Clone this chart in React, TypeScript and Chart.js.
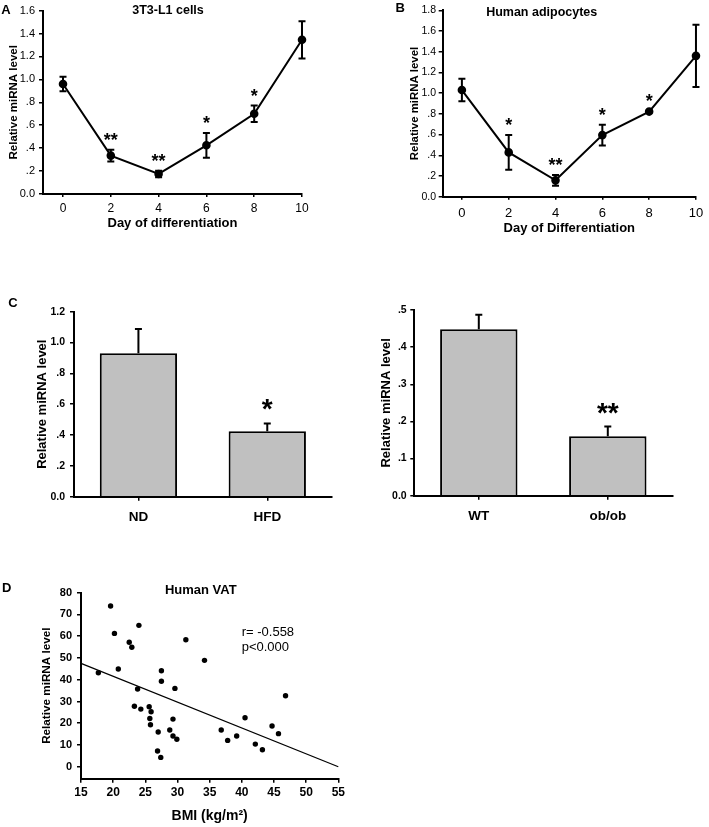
import React, { useEffect, useRef } from "react";
import { Chart, registerables } from "chart.js";
Chart.register(...registerables);

const FONT = "'Liberation Sans', Arial, Helvetica, sans-serif";

// ---- Panel A: 3T3-L1 cells ----
const daysA = [0, 2, 4, 6, 8, 10];
const meanA = [0.96, 0.335, 0.175, 0.425, 0.7, 1.345];
const semA = [0.063, 0.052, 0.028, 0.108, 0.072, 0.163];
const sigA = ["", "**", "**", "*", "*", ""];
const yTicksA = [0, 0.2, 0.4, 0.6, 0.8, 1.0, 1.2, 1.4, 1.6];

// ---- Panel B: Human adipocytes ----
const daysB = [0, 2, 4, 6, 8, 10];
const meanB = [1.03, 0.428, 0.158, 0.595, 0.822, 1.36];
const semB = [0.108, 0.168, 0.052, 0.1, 0.01, 0.3];
const sigB = ["", "*", "**", "*", "*", ""];
const yTicksB = [0, 0.2, 0.4, 0.6, 0.8, 1.0, 1.2, 1.4, 1.6, 1.8];

// ---- Panel C ----
const dietGroups = ["ND", "HFD"];
const dietMean = [0.93, 0.425];
const dietSem = [0.158, 0.05];
const dietSig = ["", "*"];
const yTicksC1 = [0, 0.2, 0.4, 0.6, 0.8, 1.0, 1.2];

const mouseGroups = ["WT", "ob/ob"];
const mouseMean = [0.448, 0.16];
const mouseSem = [0.039, 0.026];
const mouseSig = ["", "**"];
const yTicksC2 = [0, 0.1, 0.2, 0.3, 0.4, 0.5];

// ---- Panel D: Human VAT ----
const bmi = [17.7, 19.6, 20.2, 20.8, 22.5, 22.9, 24.0, 23.8, 23.3, 24.3, 25.6, 25.9, 25.7, 25.8, 27.0, 26.9, 27.4, 27.5, 27.5, 29.6, 28.8, 29.3, 29.3, 29.9, 31.3, 34.2, 36.8, 37.8, 39.2, 40.5, 42.1, 43.2, 44.7, 45.7, 46.8];
const mirna = [43.2, 73.9, 61.3, 44.9, 57.2, 54.9, 65.0, 35.7, 27.8, 26.5, 27.6, 25.3, 22.2, 19.3, 16.0, 7.2, 4.3, 44.1, 39.3, 36.0, 16.9, 21.9, 14.1, 12.6, 58.4, 48.9, 16.9, 12.1, 14.1, 22.5, 10.4, 7.8, 18.7, 15.2, 32.6];
const fitX = [15, 55];
const fitY = [47.5, 0];
const yTicksD = [0, 10, 20, 30, 40, 50, 60, 70, 80];
const xTicksD = [15, 20, 25, 30, 35, 40, 45, 50, 55];

const fmt = (v: number) => {
  if (Math.abs(v) < 1e-9) return "0.0";
  const s = v.toFixed(1);
  return v < 1 ? s.replace(/^0/, "") : s;
};

type TextItem = { t: string; x: number; y: number; size: number; bold?: boolean; align?: CanvasTextAlign };

function textPlugin(items: TextItem[]) {
  return {
    id: "texts",
    afterDraw(chart: any) {
      const ctx = chart.ctx;
      ctx.save();
      for (const it of items) {
        ctx.font = `${it.bold ? "bold " : ""}${it.size}px ${FONT}`;
        ctx.fillStyle = "#000";
        ctx.textAlign = it.align || "center";
        ctx.textBaseline = "middle";
        ctx.fillText(it.t, it.x, it.y);
      }
      ctx.restore();
    },
  };
}

function errPlugin(sem: number[], sig: string[], o: { cap: number; lw: number; both: boolean; sigSize: number; sigGap: number }) {
  return {
    id: "errs",
    afterDatasetsDraw(chart: any) {
      const ctx = chart.ctx;
      const ys = chart.scales.y;
      const meta = chart.getDatasetMeta(0);
      const ds = chart.data.datasets[0].data;
      ctx.save();
      ctx.strokeStyle = "#000";
      ctx.lineWidth = o.lw;
      meta.data.forEach((el: any, i: number) => {
        const raw = ds[i];
        const v = typeof raw === "number" ? raw : raw.y;
        const x = el.x;
        const top = ys.getPixelForValue(v + sem[i]);
        const bot = o.both ? ys.getPixelForValue(v - sem[i]) : el.y;
        ctx.beginPath();
        ctx.moveTo(x, top);
        ctx.lineTo(x, bot);
        ctx.moveTo(x - o.cap, top);
        ctx.lineTo(x + o.cap, top);
        if (o.both) {
          ctx.moveTo(x - o.cap, bot);
          ctx.lineTo(x + o.cap, bot);
        }
        ctx.stroke();
        if (sig[i]) {
          ctx.font = `bold ${o.sigSize}px ${FONT}`;
          ctx.fillStyle = "#000";
          ctx.textAlign = "center";
          ctx.textBaseline = "alphabetic";
          const cy = top - o.sigGap;
          ctx.fillText(sig[i], x, cy + 0.57 * o.sigSize);
        }
      });
      ctx.restore();
    },
  };
}

function axis(size: number, bold: boolean, tickLen: number, pad: number) {
  return {
    border: { display: true, color: "#000", width: 2 },
    grid: { display: true, drawOnChartArea: false, drawTicks: true, tickLength: tickLen, color: "#000", lineWidth: 1.5 },
    ticks: { color: "#000", font: { size, weight: bold ? "bold" : "normal", family: FONT }, padding: pad },
  };
}

function title(text: string, size: number, pad: { top?: number; bottom?: number }) {
  return { display: true, text, color: "#000", font: { size, weight: "bold", family: FONT }, padding: { top: pad.top || 0, bottom: pad.bottom || 0 } };
}

const baseOpts = {
  animation: false,
  responsive: false,
  events: [],
  plugins: { legend: { display: false }, tooltip: { enabled: false } },
};

function lineConfig(p: {
  days: number[]; mean: number[]; sem: number[]; sig: string[]; yTicks: number[];
  xmin: number; H: number; plotLeft: number; plotTop: number; plotRight: number; plotBottom: number; W: number;
  yTickSize: number; yTickPad: number; yTitleSize: number; yTitlePad: number;
  xTickSize: number; xTickPad: number; xTitle: string; xTitleSize: number; xTitlePad: number;
  texts: TextItem[];
}) {
  return {
    type: "line",
    data: {
      datasets: [{
        data: p.days.map((d, i) => ({ x: d, y: p.mean[i] })),
        borderColor: "#000", borderWidth: 2, pointRadius: 3.3, pointBackgroundColor: "#000",
        pointBorderColor: "#000", tension: 0, clip: false,
      }],
    },
    options: {
      ...baseOpts,
      layout: { padding: { left: 0, top: p.plotTop, right: p.W - p.plotRight, bottom: 0 } },
      scales: {
        x: {
          type: "linear", min: p.xmin, max: 10,
          ...axis(p.xTickSize, false, 3, p.xTickPad),
          afterBuildTicks: (s: any) => { s.ticks = p.days.map((v) => ({ value: v })); },
          afterFit: (s: any) => { s.height = p.H - p.plotBottom; },
          title: title(p.xTitle, p.xTitleSize, { bottom: p.xTitlePad }),
        },
        y: {
          type: "linear", min: 0, max: p.yTicks[p.yTicks.length - 1],
          ...axis(p.yTickSize, false, 4, p.yTickPad),
          afterBuildTicks: (s: any) => { s.ticks = p.yTicks.map((v) => ({ value: v })); },
          ticks: { ...axis(p.yTickSize, false, 4, p.yTickPad).ticks, callback: (v: any) => fmt(Number(v)) },
          afterFit: (s: any) => { s.width = p.plotLeft; },
          title: title("Relative miRNA level", p.yTitleSize, { top: p.yTitlePad }),
        },
      },
    },
    plugins: [errPlugin(p.sem, p.sig, { cap: 3.5, lw: 2, both: true, sigSize: 18, sigGap: 14 }), textPlugin(p.texts)],
  };
}

function barConfig(p: {
  groups: string[]; mean: number[]; sem: number[]; sig: string[]; yTicks: number[];
  W: number; H: number; plotLeft: number; plotTop: number; plotRight: number; plotBottom: number;
  yTickPad: number; yTitlePad: number; texts: TextItem[];
}) {
  return {
    type: "bar",
    data: {
      labels: p.groups,
      datasets: [{
        data: p.mean, backgroundColor: "#c0c0c0", borderColor: "#000", borderWidth: 2,
        barPercentage: 0.6, categoryPercentage: 1.0,
      }],
    },
    options: {
      ...baseOpts,
      layout: { padding: { left: 0, top: p.plotTop, right: p.W - p.plotRight, bottom: 0 } },
      scales: {
        x: {
          type: "category",
          ...axis(13.5, true, 4, 8),
          grid: { ...axis(13.5, true, 4, 8).grid, offset: false },
          afterFit: (s: any) => { s.height = p.H - p.plotBottom; },
        },
        y: {
          type: "linear", min: 0, max: p.yTicks[p.yTicks.length - 1],
          ...axis(10.5, true, 4, p.yTickPad),
          afterBuildTicks: (s: any) => { s.ticks = p.yTicks.map((v) => ({ value: v })); },
          ticks: { ...axis(10.5, true, 4, p.yTickPad).ticks, callback: (v: any) => fmt(Number(v)) },
          afterFit: (s: any) => { s.width = p.plotLeft; },
          title: title("Relative miRNA level", 13, { top: p.yTitlePad }),
        },
      },
    },
    plugins: [errPlugin(p.sem, p.sig, { cap: 3.5, lw: 2, both: false, sigSize: 28, sigGap: 21 }), textPlugin(p.texts)],
  };
}

function scatterConfig() {
  const W = 360, H = 252;
  const plotLeft = 81, plotTop = 17.7, plotRight = 338.3, plotBottom = 203.7;
  return {
    type: "scatter",
    data: {
      datasets: [
        {
          type: "scatter",
          data: bmi.map((b, i) => ({ x: b, y: mirna[i] })),
          pointRadius: 2.7, pointBackgroundColor: "#000", pointBorderColor: "#000", borderWidth: 0, clip: false,
        },
        {
          type: "line",
          data: fitX.map((x, i) => ({ x, y: fitY[i] })),
          borderColor: "#000", borderWidth: 1.2, pointRadius: 0, tension: 0, clip: false,
        },
      ],
    },
    options: {
      ...baseOpts,
      layout: { padding: { left: 0, top: plotTop, right: W - plotRight, bottom: 0 } },
      scales: {
        x: {
          type: "linear", min: 15, max: 55,
          ...axis(12, true, 4, 3),
          afterBuildTicks: (s: any) => { s.ticks = xTicksD.map((v) => ({ value: v })); },
          afterFit: (s: any) => { s.height = H - plotBottom; },
          title: title("BMI (kg/m\u00b2)", 14, { bottom: 2.6 }),
        },
        y: {
          type: "linear", min: -5.5, max: 80,
          ...axis(11, true, 4, 5),
          afterBuildTicks: (s: any) => { s.ticks = yTicksD.map((v) => ({ value: v })); },
          afterFit: (s: any) => { s.width = plotLeft; },
          title: title("Relative miRNA level", 11.7, { top: 39.7 }),
        },
      },
    },
    plugins: [textPlugin([
      { t: "D", x: 6.7, y: 13.8, size: 13, bold: true },
      { t: "Human VAT", x: 200.8, y: 15.7, size: 13, bold: true },
      { t: "r= -0.558", x: 241.7, y: 57.7, size: 13, align: "left" },
      { t: "p<0.000", x: 241.7, y: 72.3, size: 13, align: "left" },
    ])],
  };
}

function Panel({ left, top, width, height, make }: { left: number; top: number; width: number; height: number; make: () => any }) {
  const ref = useRef<HTMLCanvasElement>(null);
  useEffect(() => {
    const c = new Chart(ref.current as HTMLCanvasElement, make());
    return () => c.destroy();
  }, []);
  return (
    <div style={{ position: "absolute", left, top, width, height }}>
      <canvas ref={ref} width={width} height={height} style={{ display: "block", width, height }} />
    </div>
  );
}

export default function App() {
  return (
    <div style={{ position: "absolute", left: 0, top: 0, width: 709, height: 827, background: "#fff", overflow: "hidden" }}>
      <Panel left={0} top={0} width={355} height={240} make={() => lineConfig({
        days: daysA, mean: meanA, sem: semA, sig: sigA, yTicks: yTicksA,
        xmin: -0.837, W: 355, H: 240, plotLeft: 43, plotTop: 10, plotRight: 302, plotBottom: 194,
        yTickSize: 11, yTickPad: 4, yTitleSize: 11.5, yTitlePad: 7,
        xTickSize: 12, xTickPad: 4.8, xTitle: "Day of differentiation", xTitleSize: 13, xTitlePad: 9.2,
        texts: [
          { t: "A", x: 6, y: 10, size: 13, bold: true },
          { t: "3T3-L1 cells", x: 168, y: 11, size: 12.5, bold: true },
        ],
      })} />
      <Panel left={355} top={0} width={354} height={240} make={() => lineConfig({
        days: daysB, mean: meanB, sem: semB, sig: sigB, yTicks: yTicksB,
        xmin: -0.82, W: 354, H: 240, plotLeft: 87.7, plotTop: 10.3, plotRight: 346, plotBottom: 196.7,
        yTickSize: 10.5, yTickPad: 2.7, yTitleSize: 11.4, yTitlePad: 53.1,
        xTickSize: 13, xTickPad: 5.8, xTitle: "Day of Differentiation", xTitleSize: 13, xTitlePad: 3.9,
        texts: [
          { t: "B", x: 45.3, y: 8.3, size: 13, bold: true },
          { t: "Human adipocytes", x: 186.7, y: 12.7, size: 12.5, bold: true },
        ],
      })} />
      <Panel left={0} top={290} width={355} height={240} make={() => barConfig({
        groups: dietGroups, mean: dietMean, sem: dietSem, sig: dietSig, yTicks: yTicksC1,
        W: 355, H: 240, plotLeft: 74, plotTop: 21.7, plotRight: 331.7, plotBottom: 206.7,
        yTickPad: 5, yTitlePad: 34.2,
        texts: [{ t: "C", x: 13, y: 13.3, size: 13, bold: true }],
      })} />
      <Panel left={355} top={290} width={354} height={240} make={() => barConfig({
        groups: mouseGroups, mean: mouseMean, sem: mouseSem, sig: mouseSig, yTicks: yTicksC2,
        W: 354, H: 240, plotLeft: 59.3, plotTop: 20, plotRight: 317.3, plotBottom: 205.7,
        yTickPad: 3.6, yTitlePad: 23.9,
        texts: [],
      })} />
      <Panel left={0} top={575} width={360} height={252} make={scatterConfig} />
    </div>
  );
}
